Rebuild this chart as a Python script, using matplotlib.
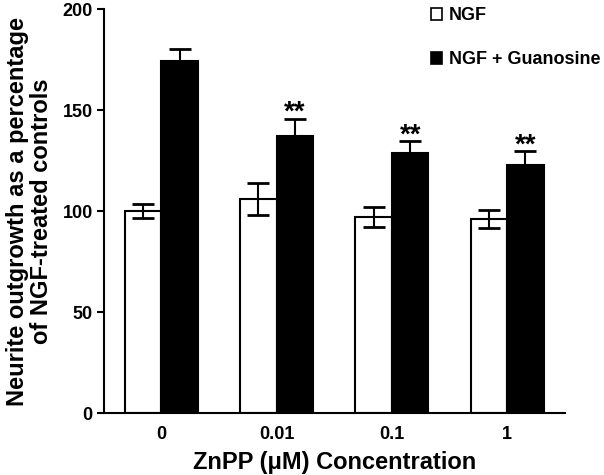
#!/usr/bin/python3

import numpy as np

import matplotlib
matplotlib.use('Agg')
from matplotlib import pyplot as plt
from matplotlib.patches import Patch

# Values
conc       = ['0', '0.01', '0.1', '1']
ngf        = [100.0, 106.0, 97.0, 96.0]
ngf_err    = [3.5, 8.0, 5.0, 4.4]
guan       = [174.3, 137.0, 128.9, 122.8]
guan_err   = [6.0, 8.8, 5.6, 7.0]
signif     = ['', '**', '**', '**']

def main():

    plt.rcParams['font.family'] = ['Liberation Sans', 'DejaVu Sans']

    fig = plt.figure(figsize=(6.04, 4.75), dpi=100)
    ax = fig.add_axes([0.172, 0.1305, 0.763, 0.8505])

    x = np.arange(len(conc))
    w = 0.317
    lw = 1.5

    ax.bar(x - w / 2, ngf, w, color='white', edgecolor='black', linewidth=lw, zorder=2)
    ax.bar(x + w / 2, guan, w, color='black', edgecolor='black', linewidth=lw, zorder=2)
    ax.errorbar(x - w / 2, ngf, yerr=ngf_err, fmt='none', ecolor='black',
                elinewidth=1.5, capsize=8, capthick=2, zorder=3)
    ax.errorbar(x + w / 2, guan, yerr=guan_err, fmt='none', ecolor='black',
                elinewidth=1.5, capsize=8, capthick=2, zorder=3)

    # significance marks above the guanosine bars
    for i in range(len(conc)):
        if not signif[i]: continue
        ax.annotate(signif[i], (x[i] + w / 2, guan[i] + guan_err[i]),
                    xytext=(0, -1), textcoords='offset points',
                    ha='center', va='baseline', fontsize=20, fontweight='bold')

    ax.set_xlim(-0.5, 3.5)
    ax.set_ylim(0, 200)
    ax.set_yticks([0, 50, 100, 150, 200])
    ax.set_xticks(x)
    ax.set_xticklabels(conc)
    ax.tick_params(axis='y', length=5, width=1.5, pad=3, labelsize=13)
    ax.tick_params(axis='x', length=0, pad=9, labelsize=13)
    for lbl in ax.get_xticklabels() + ax.get_yticklabels():
        lbl.set_fontweight('bold')
    for s in ['top', 'right']:
        ax.spines[s].set_visible(False)
    for s in ['left', 'bottom']:
        ax.spines[s].set_linewidth(1.5)

    ax.set_xlabel('ZnPP (\u03bcM) Concentration', fontsize=17, fontweight='bold', labelpad=6)
    ax.set_ylabel('Neurite outgrowth as a percentage\nof NGF-treated controls',
                  fontsize=17, fontweight='bold', linespacing=1.05)
    ax.yaxis.set_label_coords(-0.11, 0.5)

    handles = [Patch(facecolor='white', edgecolor='black', linewidth=1.2, label='NGF'),
               Patch(facecolor='black', edgecolor='black', linewidth=1.2, label='NGF + Guanosine')]
    leg = fig.legend(handles=handles, loc='upper left', bbox_to_anchor=(0.701, 1.0),
                     frameon=False, fontsize=13, handlelength=0.62, handleheight=0.62,
                     handletextpad=0.4, labelspacing=1.5, borderaxespad=0.0)
    for t in leg.get_texts():
        t.set_fontweight('bold')

    fname = 'out.png'
    print('Writing %s' % (fname))
    plt.savefig(fname, dpi=100)
    plt.close()

if __name__ == '__main__': main()
